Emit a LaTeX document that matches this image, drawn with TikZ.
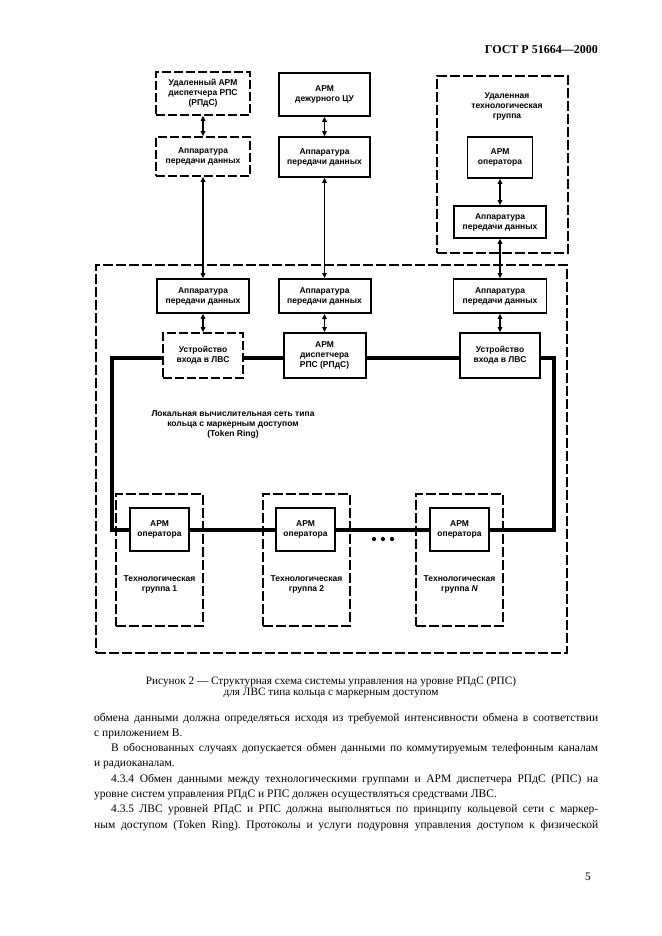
\documentclass[tikz,border=0pt]{standalone}
\usepackage{fontspec}
\setmainfont{Liberation Serif}
\newfontfamily\dfont{Liberation Sans}
\usetikzlibrary{arrows.meta}
\frenchspacing
\newcommand\dtext{\dfont\bfseries\fontsize{8.5}{10}\selectfont}
\tikzset{
  bx/.style={draw, line width=1.6pt, fill=white, inner sep=0pt, align=center, font=\dtext},
  thk/.style={line width=2pt},
  dbx/.style={bx, dash pattern=on 9pt off 3pt},
  grp/.style={draw, line width=1.5pt, dash pattern=on 10pt off 3pt, inner sep=0pt},
  lbl/.style={inner sep=0pt, align=center, font=\dtext},
  conn/.style={line width=1.4pt, {Triangle[length=5pt,width=4.5pt]}-{Triangle[length=5pt,width=4.5pt]}},
  ring/.style={line width=4pt, line join=miter},
  body/.style={anchor=base west, inner sep=0pt, font=\fontsize{11.5}{15}\selectfont},
  capt/.style={anchor=base, inner sep=0pt, font=\fontsize{11.25}{11}\selectfont},
}
\begin{document}
\begin{tikzpicture}[x=1pt,y=-1pt]
\useasboundingbox[fill=white] (0,0) rectangle (661,936);

% header
\node[anchor=base east, inner sep=0pt, font=\bfseries\fontsize{12}{14}\selectfont] (hdr) at (598,54) {ГОСТ Р 51664—2000};

% outer frames
\node[grp, minimum width=131pt, minimum height=177pt] (rg) at (502.5,164.5) {};
\node[grp, minimum width=471pt, minimum height=388pt] (big) at (331.5,459) {};
\node[grp, minimum width=87pt, minimum height=132pt] (g1) at (159.5,560) {};
\node[grp, minimum width=87pt, minimum height=132pt] (g2) at (306.5,560) {};
\node[grp, minimum width=87pt, minimum height=132pt] (g3) at (459.5,560) {};

% column 1
\node[dbx, minimum width=94pt, minimum height=43pt] (r1) at (203,93.5) {Удаленный АРМ\\диспетчера РПС\\(РПдС)};
\node[dbx, minimum width=94pt, minimum height=39pt] (r2) at (203,156.5) {Аппаратура\\передачи данных};
\node[bx, minimum width=92pt, minimum height=34pt] (a1) at (203,296) {Аппаратура\\передачи данных};
\node[dbx, minimum width=80pt, minimum height=45pt] (u1) at (203,355.5) {Устройство\\входа в ЛВС};

% column 2
\node[bx, minimum width=91pt, minimum height=43pt] (c1) at (324.5,94.5) {АРМ\\дежурного ЦУ};
\node[bx, minimum width=91pt, minimum height=40pt] (c2) at (324.5,157) {Аппаратура\\передачи данных};
\node[bx, thk, minimum width=92pt, minimum height=34pt] (a2) at (324.5,296) {Аппаратура\\передачи данных};
\node[bx, thk, minimum width=82pt, minimum height=45pt] (d) at (324.5,355.5) {АРМ\\диспетчера\\РПС (РПдС)};

% column 3
\node[lbl] (rgt) at (507,106) {Удаленная\\технологическая\\группа};
\node[bx, minimum width=65pt, minimum height=41pt] (o1) at (500,157.5) {АРМ\\оператора};
\node[bx, minimum width=92pt, minimum height=32pt] (o2) at (500,222) {Аппаратура\\передачи данных};
\node[bx, minimum width=93pt, minimum height=34pt] (a3) at (500,296) {Аппаратура\\передачи данных};
\node[bx, minimum width=80pt, minimum height=45pt] (u2) at (500,355.5) {Устройство\\входа в ЛВС};

% operator boxes
\node[bx, minimum width=59pt, minimum height=43pt] (b1) at (159.5,529.5) {АРМ\\оператора};
\node[bx, minimum width=59pt, minimum height=43pt] (b2) at (305.5,529.5) {АРМ\\оператора};
\node[bx, minimum width=59pt, minimum height=43pt] (b3) at (459.5,529.5) {АРМ\\оператора};

\node[lbl] (t1) at (159.5,584) {Технологическая\\группа 1};
\node[lbl] (t2) at (306.5,584) {Технологическая\\группа 2};
\node[lbl] (t3) at (459.5,584) {Технологическая\\группа \textit{N}};

\node[lbl] (lan) at (233,424) {Локальная вычислительная сеть типа\\кольца с маркерным доступом\\(Token Ring)};

% ring
\coordinate (rtl) at (112,358);
\coordinate (rbl) at (112,529.5);
\coordinate (rbr) at (554,529.5);
\coordinate (rtr) at (554,358);
\draw[ring] (u1.west |- rtl) -- (rtl) -- (rbl) -- (b1.west |- rbl);
\draw[ring] (b1.east |- rbl) -- (b2.west |- rbl);
\draw[ring] (b2.east |- rbl) -- (b3.west |- rbl);
\draw[ring] (b3.east |- rbl) -- (rbr) -- (rtr) -- (u2.east |- rtr);
\draw[ring] (u1.east |- rtl) -- (d.west |- rtl);
\draw[ring] (d.east |- rtl) -- (u2.west |- rtl);

\node[circle, fill, inner sep=1.5pt] (dt1) at (374,539) {};
\node[circle, fill, inner sep=1.5pt] (dt2) at (383,539) {};
\node[circle, fill, inner sep=1.5pt] (dt3) at (392,539) {};

% connectors
\draw[conn] (r1) -- (r2);
\draw[conn] (r2) -- (a1);
\draw[conn] (a1) -- (u1);
\draw[conn] (c1) -- (c2);
\draw[conn] (c2) -- (a2);
\draw[conn] (a2) -- (d);
\draw[conn] (o1) -- (o2);
\draw[conn] (o2) -- (a3);
\draw[conn] (a3) -- (u2);

% caption
\node[capt] (cap1) at (331,684) {Рисунок 2 — Структурная схема системы управления на уровне РПдС (РПС)};
\node[capt] (cap2) at (331,695) {для ЛВС типа кольца с маркерным доступом};

% body text
\node[body] (l1) at (94,721) {\hbox to 504pt{обмена данными должна определяться исходя из требуемой интенсивности обмена в соответствии}};
\node[body] (l2) at (94,736.3) {с приложением В.};
\node[body] (l3) at (111,751.6) {\hbox to 487pt{В обоснованных случаях допускается обмен данными по коммутируемым телефонным каналам}};
\node[body] (l4) at (94,766.9) {и радиоканалам.};
\node[body] (l5) at (111,782.2) {\hbox to 487pt{4.3.4 Обмен данными между технологическими группами и АРМ диспетчера РПдС (РПС) на}};
\node[body] (l6) at (94,797.5) {уровне систем управления РПдС и РПС должен осуществляться средствами ЛВС.};
\node[body] (l7) at (111,812.8) {\hbox to 487pt{4.3.5 ЛВС уровней РПдС и РПС должна выполняться по принципу кольцевой сети с маркер-}};
\node[body] (l8) at (94,828.1) {\hbox to 504pt{ным доступом (Token Ring). Протоколы и услуги подуровня управления доступом к физической}};

\node[anchor=base east, inner sep=0pt, font=\fontsize{11.5}{14}\selectfont] (pn) at (591,880) {5};
\end{tikzpicture}
\end{document}
